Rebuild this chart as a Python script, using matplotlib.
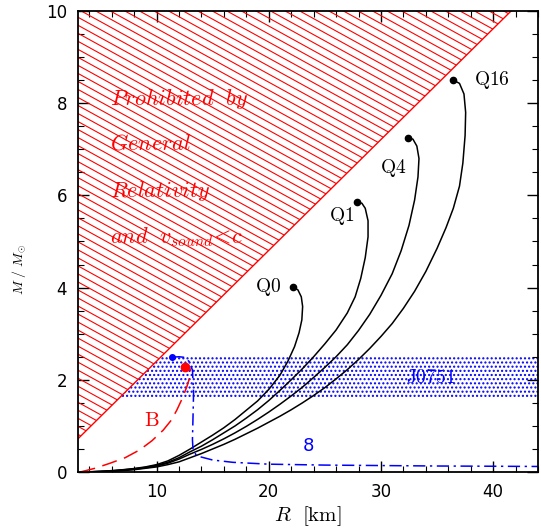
import numpy as np
import matplotlib.pyplot as plt
from matplotlib.patches import Polygon
from matplotlib.ticker import MultipleLocator

plt.rcParams['mathtext.fontset'] = 'cm'
plt.rcParams['hatch.linewidth'] = 1.0

# causality / GR limit  M = R / 4.16
gr_k = 1 / 4.16
# J0751 mass band
band_lo, band_hi = 1.6, 2.5

# quark star sequences (R [km], M/Msun)
q0_r = [3.3, 4, 5, 6, 7, 8, 9, 10, 11, 12, 13, 14, 15, 16, 17, 18, 19, 20, 21, 21.7, 22.3, 22.7, 22.95, 23.02, 22.9, 22.6, 22.19]
q0_m = [0.0, 0.005, 0.015, 0.03, 0.05, 0.075, 0.11, 0.16, 0.24, 0.36, 0.5, 0.65, 0.8, 0.96, 1.14, 1.34, 1.54, 1.79, 2.1, 2.4, 2.72, 3.02, 3.3, 3.59, 3.8, 3.95, 4.01]

q1_r = [3.3, 4, 5, 6, 7, 8, 9, 10, 11, 12, 13, 14, 15, 16, 17, 18, 19, 20, 21, 22, 23, 24, 25, 26, 27, 27.7, 28.2, 28.6, 28.85, 28.85, 28.6, 28.3, 27.84]
q1_m = [0.0, 0.004, 0.012, 0.025, 0.045, 0.07, 0.1, 0.145, 0.21, 0.31, 0.44, 0.56, 0.7, 0.85, 1.0, 1.17, 1.35, 1.55, 1.77, 2.0, 2.24, 2.5, 2.78, 3.08, 3.45, 3.8, 4.2, 4.65, 5.1, 5.45, 5.72, 5.83, 5.86]

q4_r = [3.3, 4, 5, 6, 7, 8, 9, 10, 11, 12, 13, 14, 15, 16, 17, 18, 19, 20, 21, 22, 23, 24, 25, 26, 27, 28, 29, 30, 31, 31.8, 32.5, 33.0, 33.3, 33.39, 33.2, 32.85, 32.44]
q4_m = [0.0, 0.003, 0.01, 0.02, 0.038, 0.06, 0.09, 0.13, 0.19, 0.28, 0.39, 0.49, 0.6, 0.72, 0.85, 0.99, 1.14, 1.3, 1.47, 1.65, 1.84, 2.05, 2.27, 2.5, 2.76, 3.07, 3.42, 3.83, 4.3, 4.8, 5.35, 5.9, 6.4, 6.8, 7.07, 7.22, 7.25]

q16_r = [3.3, 4, 5, 6, 7, 8, 9, 10, 11, 12, 13, 14, 15, 16, 17, 18, 19, 20, 21, 22, 23, 24, 25, 26, 27, 28, 29, 30, 31, 32, 33, 34, 35, 35.8, 36.45, 37.0, 37.3, 37.5, 37.55, 37.4, 37.0, 36.45]
q16_m = [0.0, 0.002, 0.008, 0.017, 0.03, 0.05, 0.08, 0.11, 0.16, 0.22, 0.31, 0.4, 0.5, 0.6, 0.71, 0.83, 0.95, 1.08, 1.21, 1.35, 1.5, 1.66, 1.83, 2.02, 2.22, 2.44, 2.68, 2.94, 3.22, 3.55, 3.92, 4.35, 4.85, 5.3, 5.72, 6.2, 6.7, 7.3, 7.8, 8.2, 8.43, 8.5]

# hadronic EOS B
b_r = [3.2, 4.5, 5.85, 7.2, 8.5, 9.6, 10.6, 11.3, 11.8, 12.3, 12.7, 12.95, 13.05, 12.98, 12.78, 12.5]
b_m = [0.0, 0.08, 0.19, 0.31, 0.48, 0.68, 0.91, 1.12, 1.34, 1.6, 1.85, 2.05, 2.17, 2.24, 2.28, 2.28]

# curve "8"
e8_r = [11.38, 12.0, 12.4, 12.9, 13.2, 13.3, 13.25, 13.2, 13.25, 13.5, 13.9, 15, 16.8, 20, 25, 30, 35, 40, 44]
e8_m = [2.49, 2.5, 2.49, 2.4, 2.21, 1.71, 1.2, 0.7, 0.48, 0.38, 0.33, 0.26, 0.21, 0.17, 0.15, 0.14, 0.13, 0.125, 0.12]

fig = plt.figure(figsize=(5.41, 5.31), dpi=100)
ax = fig.add_axes([0.1442, 0.1111, 0.8503, 0.8682])
ax.set_xlim(3, 44)
ax.set_ylim(0, 10)

# prohibited region with slanted hatching
r0, r1 = 3, 10 / gr_k
region = Polygon([(r0, r0 * gr_k), (r0, 10), (r1, 10)], closed=True,
                 facecolor='none', edgecolor='none')
ax.add_patch(region)
slope = -0.134
for c in np.arange(0, 17, 0.174):
    ln, = ax.plot([3, 44], [c + slope * 3, c + slope * 44], color='red', lw=0.8)
    ln.set_clip_path(region)
ax.plot([r0, r1], [r0 * gr_k, 10], color='red', lw=1.0)

# J0751 band
band = Polygon([(band_lo / gr_k, band_lo), (44, band_lo), (44, band_hi), (band_hi / gr_k, band_hi)],
               closed=True, facecolor='none', edgecolor='blue', lw=0, hatch='....')
ax.add_patch(band)
ax.text(34.4, 2.05, r'$\mathrm{J0751}$', color='blue', fontsize=14, ha='center', va='center')

# Q sequences
for rr, mm in [(q0_r, q0_m), (q1_r, q1_m), (q4_r, q4_m), (q16_r, q16_m)]:
    ax.plot(rr, mm, color='black', lw=1.1)
    ax.plot(rr[-1], mm[-1], 'o', color='black', ms=4.5)

ax.text(19.9, 4.01, r'$\mathrm{Q0}$', fontsize=14, ha='center', va='center')
ax.text(26.5, 5.55, r'$\mathrm{Q1}$', fontsize=14, ha='center', va='center')
ax.text(31.1, 6.6, r'$\mathrm{Q4}$', fontsize=14, ha='center', va='center')
ax.text(39.9, 8.5, r'$\mathrm{Q16}$', fontsize=14, ha='center', va='center')

ax.plot(b_r, b_m, color='red', lw=1.1, dashes=(10, 5))
ax.plot(b_r[-1], b_m[-1], 'o', color='red', ms=6)
ax.text(9.6, 1.13, r'$\mathrm{B}$', color='red', fontsize=15, ha='center', va='center')

ax.plot(e8_r, e8_m, color='blue', lw=1.1, dashes=(8, 3, 1.5, 3))
ax.plot(e8_r[0], e8_m[0], 'o', color='blue', ms=4)
ax.text(23.5, 0.56, '8', color='blue', fontsize=13, ha='center', va='center')

# prohibited text
txt = dict(color='red', fontsize=16, ha='left', va='center')
ax.text(5.85, 8.1, r'$\mathit{Prohibited\ \ by}$', **txt)
ax.text(5.85, 7.13, r'$\mathit{General}$', **txt)
ax.text(5.85, 6.1, r'$\mathit{Relativity}$', **txt)
ax.text(5.85, 5.1, r'$\mathit{and\ \ v_{sound}}\!<\!c$', **txt)

ax.xaxis.set_major_locator(MultipleLocator(10))
ax.xaxis.set_minor_locator(MultipleLocator(2))
ax.yaxis.set_major_locator(MultipleLocator(2))
ax.yaxis.set_minor_locator(MultipleLocator(0.5))
ax.tick_params(which='both', direction='in', top=True, right=True, labelsize=12, pad=8)
ax.tick_params(which='major', length=8, width=1.0)
ax.tick_params(which='minor', length=4, width=0.8)
for sp in ax.spines.values():
    sp.set_linewidth(1.3)

ax.set_xlabel(r'$R\ \ [\mathrm{km}]$', fontsize=15, labelpad=2)
ax.set_ylabel(r'$M\ /\ M_{\odot}$', fontsize=10)
ax.yaxis.set_label_coords(-0.108, 0.44)

fig.savefig('out.png', dpi=100)
